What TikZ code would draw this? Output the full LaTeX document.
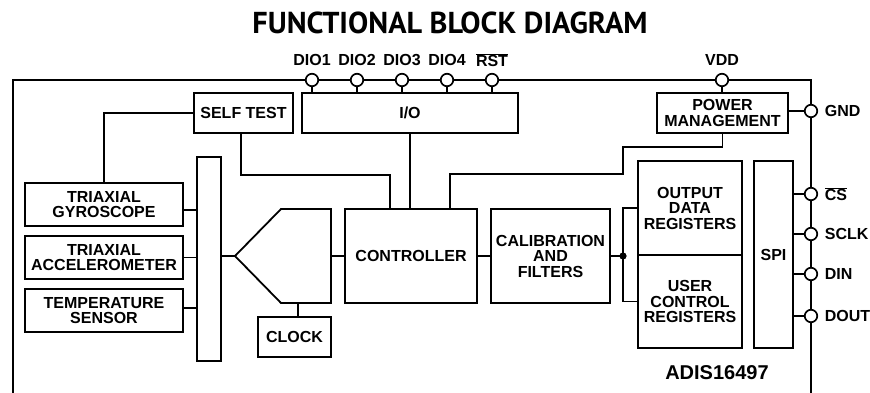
\documentclass[tikz,border=0pt]{standalone}
\usepackage{fontspec}
\setmainfont{Liberation Sans}
\newfontfamily\titlefont{PT Sans}
\begin{document}
\begin{tikzpicture}[x=1pt,y=-1pt,line width=1.8pt,
  blk/.style={draw,line width=1.8pt,inner sep=0pt,align=center,font=\fontsize{16}{15.5}\selectfont\bfseries},
  pin/.style={draw,circle,fill=white,minimum size=12.5pt,inner sep=0pt,line width=1.7pt},
  lbl/.style={inner sep=0pt,font=\fontsize{16}{15.5}\selectfont\bfseries},
  wire/.style={line width=1.8pt}]
\useasboundingbox (0,0) rectangle (870,392);
% title
\node[inner sep=0pt] (title) at (450,23) {\resizebox{395pt}{!}{\titlefont\bfseries FUNCTIONAL BLOCK DIAGRAM}};
% outer border
\coordinate (bl) at (13,400);
\coordinate (br) at (811,400);
\draw[line width=1.9pt] (bl) -- (13,80) -- (811,80) -- (br);
% boxes
\node[blk,minimum width=99pt,minimum height=40pt] (selftest) at (243.5,113) {SELF TEST};
\node[blk,minimum width=216pt,minimum height=40pt] (io) at (410,113) {I/O};
\node[blk,minimum width=131pt,minimum height=40pt] (pm) at (722.5,113) {POWER\\MANAGEMENT};
\node[blk,minimum width=158pt,minimum height=43pt] (gyro) at (104,204.5) {TRIAXIAL\\GYROSCOPE};
\node[blk,minimum width=158pt,minimum height=43pt] (accel) at (104,257.5) {TRIAXIAL\\ACCELEROMETER};
\node[blk,minimum width=158pt,minimum height=43pt] (temp) at (104,310.5) {TEMPERATURE\\SENSOR};
\node[blk,minimum width=24pt,minimum height=204pt] (bus) at (209,259) {};
\node[blk,minimum width=132pt,minimum height=94pt] (ctrl) at (411,256) {CONTROLLER};
\node[blk,minimum width=119pt,minimum height=94pt] (cal) at (550.5,256) {CALIBRATION\\AND\\FILTERS};
\node[blk,minimum width=104pt,minimum height=94pt] (outreg) at (690,208) {OUTPUT\\DATA\\REGISTERS};
\node[blk,minimum width=104pt,minimum height=93pt] (userreg) at (690,301.5) {USER\\CONTROL\\REGISTERS};
\node[blk,minimum width=39pt,minimum height=187pt] (spi) at (773.5,254.5) {SPI};
\node[blk,minimum width=73pt,minimum height=40pt] (clock) at (294.5,337) {CLOCK};
% mux
\coordinate (muxtip) at (235,256);
\coordinate (muxr) at (331,256);
\coordinate (muxb) at (298,303);
\draw[wire,line join=miter] (muxtip) -- (281,209) -- (331,209) -- (331,303) -- (281,303) -- cycle;
% pins
\node[pin] (dio1) at (312,80) {};
\node[pin] (dio2) at (357,80) {};
\node[pin] (dio3) at (402,80) {};
\node[pin] (dio4) at (447,80) {};
\node[pin] (rst) at (492,80) {};
\node[pin] (vdd) at (722,80) {};
\node[pin] (gnd) at (811,111) {};
\node[pin] (cs) at (811,194) {};
\node[pin] (sclk) at (811,234) {};
\node[pin] (din) at (811,274) {};
\node[pin] (dout) at (811,316) {};
% pin labels
\node[lbl] (ldio1) at (312,60) {DIO1};
\node[lbl] (ldio2) at (357,60) {DIO2};
\node[lbl] (ldio3) at (402,60) {DIO3};
\node[lbl] (ldio4) at (447,60) {DIO4};
\node[lbl] (lrst) at (492,60) {$\overline{\mbox{RST}}$};
\node[lbl] (lvdd) at (722,60) {VDD};
\node[lbl,anchor=west] (lgnd) at (824,111) {GND};
\node[lbl,anchor=west] (lcs) at (824,194) {$\overline{\mbox{CS}}$};
\node[lbl,anchor=west] (lsclk) at (824,234) {SCLK};
\node[lbl,anchor=west] (ldin) at (824,274) {DIN};
\node[lbl,anchor=west] (ldout) at (824,316) {DOUT};
\node[inner sep=0pt,font=\fontsize{20}{20}\selectfont\bfseries] (part) at (717,373) {ADIS16497};
% connections
\foreach \p in {dio1,dio2,dio3,dio4,rst}
  \draw[wire] (\p.south) -- (\p.south |- io.north);
\draw[wire] (vdd.south) -- (vdd.south |- pm.north);
\draw[wire] (gnd.west) -- (gnd.west -| pm.east);
\draw[wire] (selftest.west) -| (gyro.north);
\draw[wire] ([xshift=-2.5pt]selftest.south) -- ++(0,41) -| ([xshift=-21pt]ctrl.north);
\draw[wire] (io.south) -- (io.south |- ctrl.north);
\draw[wire] (pm.south) |- (623,147) -- (623,174) -| ([xshift=39pt]ctrl.north);
\draw[wire] ([yshift=-5.5pt]gyro.east) -- ([yshift=-5.5pt]gyro.east -| bus.west);
\draw[wire] (accel.east) -- (accel.east -| bus.west);
\draw[wire] ([yshift=2.5pt]temp.east) -- ([yshift=2.5pt]temp.east -| bus.west);
\draw[wire] (muxtip -| bus.east) -- (muxtip);
\draw[wire] (muxr) -- (ctrl.west);
\draw[wire] (muxb) -- (muxb |- clock.north);
\draw[wire] (ctrl.east) -- (cal.east -| cal.west);
\coordinate (dot) at (623,256);
\draw[wire] (cal.east) -- (dot);
\draw[wire] (outreg.west) -| (dot) |- (userreg.west);
\fill (dot) circle (3.6pt);
\draw[wire] (cs.west) -- (cs.west -| spi.east);
\draw[wire] (sclk.west) -- (sclk.west -| spi.east);
\draw[wire] (din.west) -- (din.west -| spi.east);
\draw[wire] (dout.west) -- (dout.west -| spi.east);
\end{tikzpicture}
\end{document}
